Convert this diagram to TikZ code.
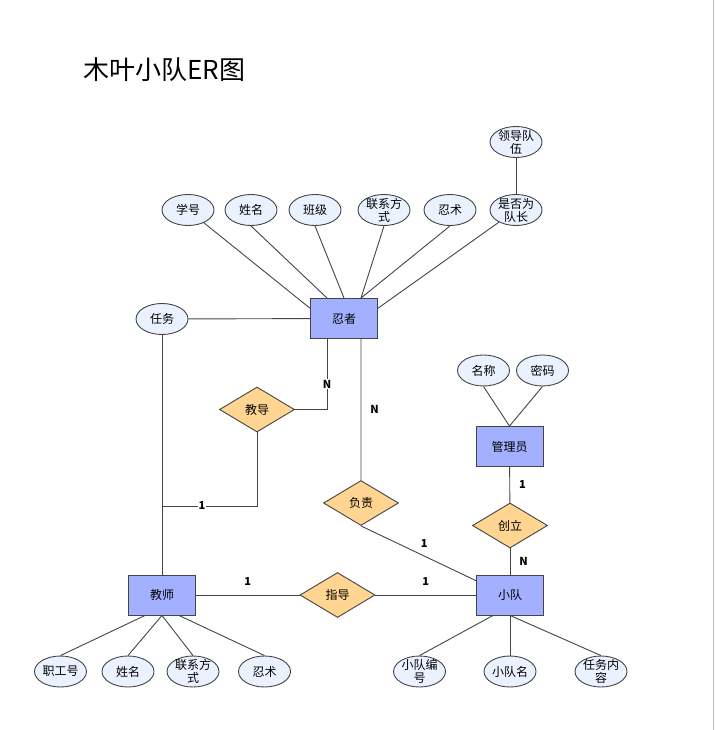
\documentclass[tikz,border=0pt]{standalone}
\usepackage{fontspec}
\setmainfont{Noto Sans CJK SC}
\usepackage{tikz}
\usetikzlibrary{shapes.geometric, calc}
\definecolor{entfill}{HTML}{A3B0FF}
\definecolor{relfill}{HTML}{FFD591}
\definecolor{attrfill}{HTML}{EAF2FF}
\definecolor{lineclr}{HTML}{444444}
\tikzset{
  ernode/.style = {align=center, inner sep=0pt, text centered,
    font=\fontsize{12}{13}\selectfont, draw=lineclr, line width=0.9pt},
  ent/.style = {ernode, rectangle, fill=entfill,
    minimum width=67pt, minimum height=40pt},
  attr/.style = {ernode, ellipse, fill=attrfill, inner ysep=-6pt,
    minimum width=52pt, minimum height=31pt},
  rel/.style = {ernode, diamond, fill=relfill,
    minimum width=75pt, minimum height=45pt},
  link/.style = {draw=lineclr, line width=0.9pt},
  card/.style = {font=\fontsize{11}{12}\selectfont\bfseries, text=black,
    inner sep=1pt}
}

\begin{document}
\begin{tikzpicture}[x=1pt, y=-1pt]
\useasboundingbox (0,0) rectangle (714,730);
\draw[gray!55, line width=1pt] (713.5,0) -- (713.5,730);
\node[anchor=west, font=\fontsize{26}{31}\selectfont] (title) at (80,70) {木叶小队ER图};

\node[ent] (ninja) at (344,318.5) {忍者};
\node[ent] (teacher) at (162,595) {教师};
\node[ent] (team) at (510,595) {小队};
\node[ent] (admin) at (509.5,446.5) {管理员};

\node[rel] (guide) at (257,409.5) {教导};
\node[rel] (lead) at (361,503) {负责};
\node[rel] (mentor) at (337.5,595) {指导};
\node[rel] (found) at (510,525.5) {创立};

\node[attr] (sid) at (188,210) {学号};
\node[attr] (sname) at (251,210) {姓名};
\node[attr] (sclass) at (315,210) {班级};
\node[attr] (sphone) at (384,210) {联系方\\式};
\node[attr] (sskill) at (450,210) {忍术};
\node[attr] (iscap) at (516,210) {是否为\\队长};
\node[attr] (capteam) at (516,142) {领导队\\伍};
\node[attr] (task) at (162,319) {任务};

\node[attr] (aname) at (483.5,370.5) {名称};
\node[attr] (apass) at (542.5,370.5) {密码};

\node[attr] (tid) at (60.5,671.5) {职工号};
\node[attr] (tname) at (128,671.5) {姓名};
\node[attr] (tphone) at (193,671.5) {联系方\\式};
\node[attr] (tskill) at (264.5,671.5) {忍术};
\node[attr] (qid) at (419.5,671.5) {小队编\\号};
\node[attr] (qname) at (510,671.5) {小队名};
\node[attr] (qtask) at (601,671.5) {任务内\\容};

\coordinate (tj) at (162,506);

\draw[link] (sid) -- ($(ninja.north west)!.25!(ninja.south west)$);
\draw[link] (sname.south) -- ($(ninja.north west)!.25!(ninja.north east)$);
\draw[link] (sclass.south) -- (ninja.north);
\draw[link] (sphone.south) -- ($(ninja.north west)!.75!(ninja.north east)$);
\draw[link] (sskill.south) -- ($(ninja.north west)!.75!(ninja.north east)$);
\draw[link] (iscap) -- ($(ninja.north east)!.25!(ninja.south east)$);
\draw[link] (capteam) -- (iscap);
\draw[link] (task) -- (ninja);
\draw[link] (task) -- (teacher);

\draw[link] ($(ninja.south west)!.25!(ninja.south east)$) |- (guide)
  node[card, pos=.32, fill=white] {N};
\draw[link] (guide) |- (tj) node[card, pos=.79, fill=white] {1};
\draw[link] ($(ninja.south west)!.75!(ninja.south east)$) -- (lead.north)
  node[card, midway, right=8pt] {N};
\draw[link] (lead.south) -- ($(team.north west)!.15!(team.south west)$)
  node[card, pos=.55, above=7pt] {1};

\draw[link] (teacher) -- (mentor) node[card, midway, above=8pt] {1};
\draw[link] (mentor) -- (team) node[card, midway, above=8pt] {1};

\draw[link] (aname.south) -- (admin.north);
\draw[link] (apass.south) -- (admin.north);
\draw[link] (admin) -- (found) node[card, midway, right=8pt] {1};
\draw[link] (found) -- (team) node[card, midway, right=8pt] {N};

\draw[link] ($(teacher.south west)!.25!(teacher.south east)$) -- (tid.north);
\draw[link] (teacher.south) -- (tname.north);
\draw[link] (teacher.south) -- (tphone.north);
\draw[link] ($(teacher.south west)!.75!(teacher.south east)$) -- (tskill.north);
\draw[link] ($(team.south west)!.25!(team.south east)$) -- (qid.north);
\draw[link] (team.south) -- (qname.north);
\draw[link] (team.south) -- (qtask.north);
\end{tikzpicture}
\end{document}
